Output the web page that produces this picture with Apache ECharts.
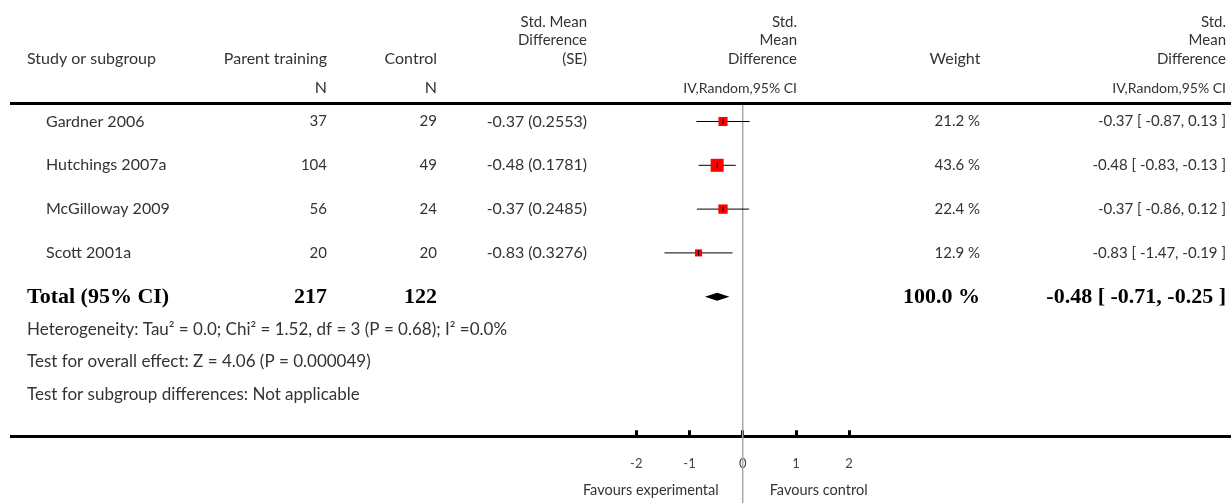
<!DOCTYPE html>
<html>
<head>
<meta charset="utf-8">
<script src="https://cdn.jsdelivr.net/npm/echarts@6/dist/echarts.min.js"></script>
<style>
html,body{margin:0;padding:0;background:#fff;}
#chart{width:1231px;height:503px;}
</style>
</head>
<body>
<div id="chart"></div>
<script>
// ---- data ----
const studies = ['Gardner 2006', 'Hutchings 2007a', 'McGilloway 2009', 'Scott 2001a'];
const nExp = [37, 104, 56, 20];
const nCtl = [29, 49, 24, 20];
const smd = [-0.37, -0.48, -0.37, -0.83];
const se = [0.2553, 0.1781, 0.2485, 0.3276];
const ciLow = [-0.87, -0.83, -0.86, -1.47];
const ciHigh = [0.13, -0.13, 0.12, -0.19];
const weights = [21.2, 43.6, 22.4, 12.9];

const totalLabel = 'Total (95% CI)';
const totalNExp = 217;
const totalNCtl = 122;
const totalEst = -0.48;
const totalLow = -0.71;
const totalHigh = -0.25;
const totalWeight = 100.0;

const footnotes = [
  'Heterogeneity: Tau\u00B2 = 0.0; Chi\u00B2 = 1.52, df = 3 (P = 0.68); I\u00B2 =0.0%',
  'Test for overall effect: Z = 4.06 (P = 0.000049)',
  'Test for subgroup differences: Not applicable'
];
const xTicks = [-2, -1, 0, 1, 2];
const favourLeft = 'Favours experimental';
const favourRight = 'Favours control';

// ---- layout / style ----
const FONT = 'Lato';
const SERIF = 'Liberation Serif';
const TXT = '#333';
const COL = {
  name: 46, nameHead: 27, nExp: 327, nCtl: 437, se: 587, forest: 797, wCenter: 955, wRight: 980, ci: 1226
};

function fmt(v, d) { return v.toFixed(d); }
function ciText(e, l, h) { return fmt(e, 2) + ' [ ' + fmt(l, 2) + ', ' + fmt(h, 2) + ' ]'; }

function t(x, y, text, align, size, opt) {
  opt = opt || {};
  return {
    type: 'text', x: x, y: y, silent: true,
    style: {
      text: text, align: align || 'left', verticalAlign: 'middle',
      fill: opt.fill || TXT, fontFamily: opt.font || FONT,
      fontSize: size || 15, fontWeight: opt.weight || 'normal'
    }
  };
}

const chart = echarts.init(document.getElementById('chart'), null, {renderer: 'canvas'});

const studyData = studies.map((s, i) => [i, smd[i], ciLow[i], ciHigh[i], weights[i]]);

const HS = 16;   // single-line headers
const MS = 15;   // stacked headers
const headY = [22, 40.5, 59];
const headerGraphics = [
  t(COL.nameHead, 59, 'Study or subgroup', 'left', HS),
  t(COL.nExp, 59, 'Parent training', 'right', HS),
  t(COL.nExp, 88, 'N', 'right', HS),
  t(COL.nCtl, 59, 'Control', 'right', HS),
  t(COL.nCtl, 88, 'N', 'right', HS),
  t(COL.se, headY[0], 'Std. Mean', 'right', MS),
  t(COL.se, headY[1], 'Difference', 'right', MS),
  t(COL.se, headY[2], '(SE)', 'right', MS),
  t(COL.forest, headY[0], 'Std.', 'right', MS),
  t(COL.forest, headY[1], 'Mean', 'right', MS),
  t(COL.forest, headY[2], 'Difference', 'right', MS),
  t(COL.forest, 88, 'IV,Random,95% CI', 'right', 14),
  t(COL.wCenter, 59, 'Weight', 'center', HS),
  t(COL.ci, headY[0], 'Std.', 'right', MS),
  t(COL.ci, headY[1], 'Mean', 'right', MS),
  t(COL.ci, headY[2], 'Difference', 'right', MS),
  t(COL.ci, 88, 'IV,Random,95% CI', 'right', 14),
  {type: 'rect', silent: true, shape: {x: 10, y: 102, width: 1221, height: 3}, style: {fill: '#000'}},
  {type: 'rect', silent: true, shape: {x: 10, y: 435, width: 1221, height: 3}, style: {fill: '#000'}}
];

const option = {
  animation: false,
  backgroundColor: '#fff',
  grid: {left: 636.3, width: 212.8, top: 121.5, height: 175.2, containLabel: false},
  xAxis: {
    type: 'value', min: -2, max: 2, interval: 1,
    position: 'bottom',
    offset: 139.5,
    axisLine: {show: false, onZero: false},
    axisTick: {show: true, inside: true, length: 6, lineStyle: {color: '#000', width: 3}},
    axisLabel: {color: '#444', fontFamily: FONT, fontSize: 13, margin: 21,
      formatter: v => (xTicks.indexOf(v) >= 0 ? String(v) : '')},
    splitLine: {show: false}
  },
  yAxis: {type: 'value', min: 0, max: 4, inverse: true, show: false},
  graphic: headerGraphics,
  series: [
    {
      type: 'custom',
      clip: false,
      data: studyData,
      encode: {x: [1, 2, 3], y: 0},
      z: 3,
      renderItem: function (params, api) {
        const i = api.value(0);
        const est = api.value(1), lo = api.value(2), hi = api.value(3), w = api.value(4);
        const pE = api.coord([est, i]);
        const pL = api.coord([lo, i]);
        const pH = api.coord([hi, i]);
        const y = pE[1];
        const sz = 1.97 * Math.sqrt(w);
        return {
          type: 'group',
          children: [
            {type: 'line', shape: {x1: pL[0], y1: y, x2: pH[0], y2: y}, style: {stroke: '#000', lineWidth: 1}},
            {type: 'rect', shape: {x: pE[0] - sz / 2, y: y - sz / 2, width: sz, height: sz}, style: {fill: '#ff0000'}},
            {type: 'line', shape: {x1: pE[0], y1: y - 2.5, x2: pE[0], y2: y + 2.5}, style: {stroke: '#000', lineWidth: 1}},
            t(COL.name, y, studies[i], 'left', 16),
            t(COL.nExp, y, String(nExp[i]), 'right', 15),
            t(COL.nCtl, y, String(nCtl[i]), 'right', 15),
            t(COL.se, y, fmt(smd[i], 2) + ' (' + fmt(se[i], 4) + ')', 'right', 16),
            t(COL.wRight, y, fmt(weights[i], 1) + ' %', 'right', 15),
            t(COL.ci, y, ciText(smd[i], ciLow[i], ciHigh[i]), 'right', 15)
          ]
        };
      }
    },
    {
      type: 'custom',
      clip: false,
      data: [[4, totalEst, totalLow, totalHigh, totalWeight]],
      encode: {x: [1, 2, 3], y: 0},
      z: 3,
      renderItem: function (params, api) {
        const r = api.value(0);
        const pE = api.coord([api.value(1), r]);
        const pL = api.coord([api.value(2), r]);
        const pH = api.coord([api.value(3), r]);
        const y = pE[1];
        const h = 4;
        const bold = {font: SERIF, weight: 'bold', fill: '#000'};
        const BS = 22;
        const zero = api.coord([0, r]);
        const foot = footnotes.map((s, k) => t(COL.nameHead, y + 33 + k * 32.3, s, 'left', 17));
        return {
          type: 'group',
          children: [
            {type: 'line', z2: -1, shape: {x1: zero[0], y1: 105, x2: zero[0], y2: 503}, style: {stroke: '#a8a8a8', lineWidth: 1.5}},
            {type: 'polygon', shape: {points: [[pL[0], y], [pE[0], y - h], [pH[0], y], [pE[0], y + h]]}, style: {fill: '#000'}},
            t(COL.nameHead, y + 1, totalLabel, 'left', BS, bold),
            t(COL.nExp, y + 1, String(totalNExp), 'right', BS, bold),
            t(COL.nCtl, y + 1, String(totalNCtl), 'right', BS, bold),
            t(COL.wRight, y + 1, fmt(api.value(4), 1) + ' %', 'right', BS, bold),
            t(COL.ci, y + 1, ciText(api.value(1), api.value(2), api.value(3)), 'right', BS, bold),
            t(zero[0] - 24, y + 194, favourLeft, 'right', 14.5),
            t(zero[0] + 27, y + 194, favourRight, 'left', 14.5)
          ].concat(foot)
        };
      }
    }
  ]
};
chart.setOption(option);
</script>
</body>
</html>
